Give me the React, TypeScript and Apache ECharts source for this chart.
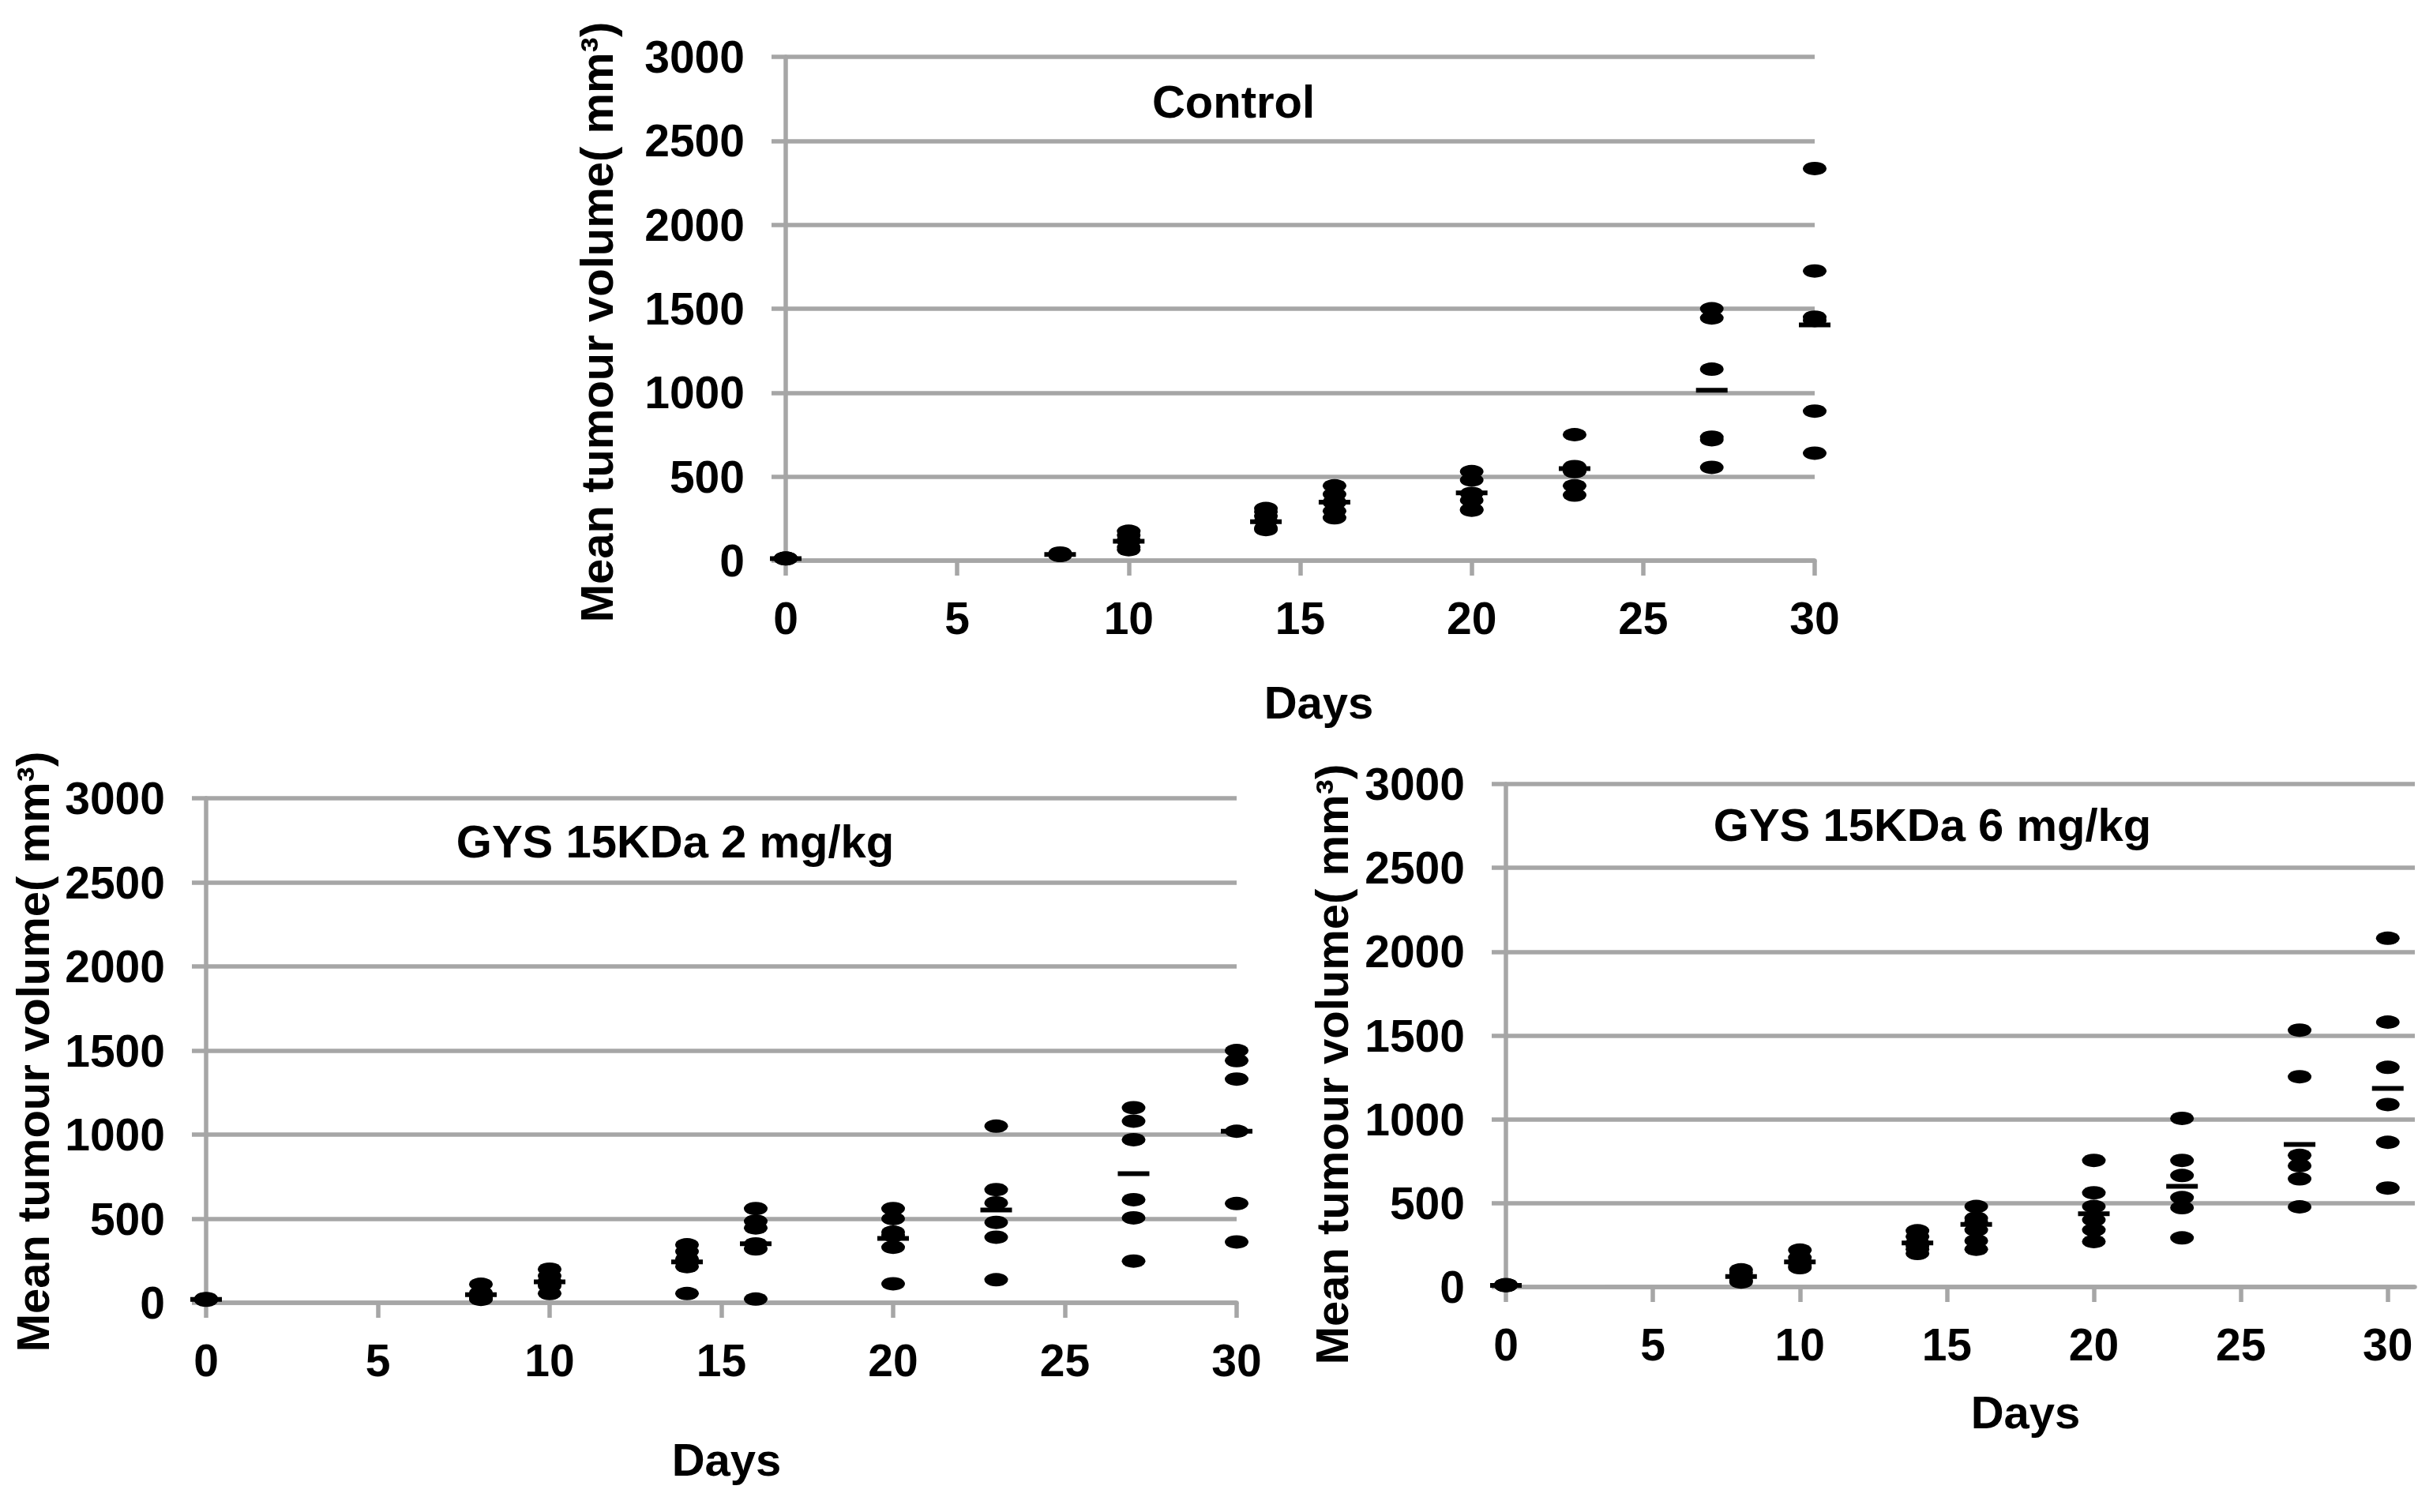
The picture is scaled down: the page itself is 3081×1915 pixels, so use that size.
import React, { useEffect, useRef } from "react";
import * as echarts from "echarts";

const days = [0, 8, 10, 14, 16, 20, 23, 27, 30];
const xTickValues = [0, 5, 10, 15, 20, 25, 30];

// individual tumour volumes (mm3), one inner array per day
const controlVolumes = [
  [15, 12, 10, 14, 11, 13],
  [45, 40, 38, 35, 32, 30],
  [175, 150, 125, 113, 80, 65],
  [310, 290, 265, 235, 195, 185],
  [445, 395, 350, 345, 295, 255],
  [530, 480, 400, 360, 305, 300],
  [750, 560, 545, 530, 445, 390],
  [1500, 1445, 1140, 735, 720, 555],
  [2335, 1725, 1450, 1430, 890, 640],
];
const controlMeans = [12, 36, 115, 232, 348, 403, 548, 1014, 1404];

const dose2Volumes = [
  [22, 20, 18, 25, 20, 15],
  [110, 60, 45, 35, 25, 20],
  [200, 160, 130, 115, 100, 55],
  [345, 305, 260, 240, 215, 55],
  [560, 485, 445, 350, 320, 22],
  [560, 500, 420, 400, 330, 113],
  [1050, 673, 594, 478, 390, 137],
  [1160, 1080, 970, 613, 505, 248],
  [1500, 1440, 1330, 1020, 590, 362],
];
const dose2Means = [20, 48, 125, 243, 351, 383, 552, 768, 1020];

const dose6Volumes = [
  [12, 10, 8, 14, 10, 12],
  [102, 85, 65, 55, 40, 30],
  [220, 175, 150, 140, 125, 115],
  [335, 300, 265, 245, 225, 200],
  [480, 410, 390, 340, 275, 225],
  [755, 562, 480, 400, 340, 271],
  [1006, 755, 665, 533, 473, 293],
  [1532, 1254, 785, 723, 645, 478],
  [2080, 1580, 1310, 1088, 863, 590],
];
const dose6Means = [10, 62, 150, 263, 373, 437, 601, 850, 1185];

const panelTitles = ["Control", "GYS 15KDa 2 mg/kg", "GYS 15KDa 6 mg/kg"];
const yTitle = "Mean tumour volume( mm³)";
const xTitle = "Days";

const GRAY = "#a6a6a6";
const FONT = "'Liberation Sans', Arial, Helvetica, sans-serif";
const LW = 5.5;

function points(vals: number[][]) {
  return days.flatMap((d, i) => vals[i].map((v) => [d, v]));
}
function meanPoints(m: number[]) {
  return days.map((d, i) => [d, m[i]]);
}

function makeXAxis(gridIndex: number, max: number) {
  return {
    type: "value",
    gridIndex,
    min: 0,
    max,
    interval: 5,
    axisLine: { show: true, onZero: false, lineStyle: { color: GRAY, width: LW } },
    axisTick: {
      show: true,
      length: 19,
      lineStyle: { color: GRAY, width: LW },
      customValues: xTickValues,
    },
    axisLabel: {
      color: "#000",
      fontSize: 57,
      fontWeight: "bold",
      fontFamily: FONT,
      margin: 44,
      customValues: xTickValues,
      formatter: (v: number) => String(v),
    },
    splitLine: { show: false },
  };
}

function makeYAxis(gridIndex: number) {
  return {
    type: "value",
    gridIndex,
    min: 0,
    max: 3000,
    interval: 500,
    axisLine: { show: true, lineStyle: { color: GRAY, width: LW } },
    axisTick: { show: true, length: 18, lineStyle: { color: GRAY, width: LW } },
    axisLabel: {
      color: "#000",
      fontSize: 57,
      fontWeight: "bold",
      fontFamily: FONT,
      margin: 52,
      formatter: (v: number) => String(v),
    },
    splitLine: { show: true, lineStyle: { color: GRAY, width: LW } },
  };
}

function dotSeries(idx: number, vals: number[][]) {
  return {
    type: "scatter",
    xAxisIndex: idx,
    yAxisIndex: idx,
    symbol: "circle",
    symbolSize: [30, 17],
    itemStyle: { color: "#000", opacity: 1 },
    data: points(vals),
    z: 3,
  };
}
function meanSeries(idx: number, m: number[]) {
  return {
    type: "scatter",
    xAxisIndex: idx,
    yAxisIndex: idx,
    symbol: "rect",
    symbolSize: [40, 6],
    itemStyle: { color: "#000", opacity: 1 },
    data: meanPoints(m),
    z: 4,
  };
}

function textEl(text: string, x: number, y: number, rotation = 0) {
  return {
    type: "text",
    x,
    y,
    rotation,
    style: {
      text,
      fill: "#000",
      font: `bold 58px ${FONT}`,
      textAlign: "center",
      textVerticalAlign: "middle",
    },
    z: 10,
  };
}

export default function App() {
  const ref = useRef<HTMLDivElement>(null);
  useEffect(() => {
    if (!ref.current) return;
    const chart = echarts.init(ref.current, null, { renderer: "svg" });
    chart.setOption({
      animation: false,
      backgroundColor: "#fff",
      grid: [
        { left: 995, top: 72, width: 1303, height: 638 },
        { left: 261, top: 1011, width: 1305, height: 639 },
        { left: 1907, top: 993, width: 1151, height: 637 },
      ],
      xAxis: [makeXAxis(0, 30), makeXAxis(1, 30), makeXAxis(2, 30.92)],
      yAxis: [makeYAxis(0), makeYAxis(1), makeYAxis(2)],
      series: [
        dotSeries(0, controlVolumes),
        meanSeries(0, controlMeans),
        dotSeries(1, dose2Volumes),
        meanSeries(1, dose2Means),
        dotSeries(2, dose6Volumes),
        meanSeries(2, dose6Means),
      ],
      graphic: [
        textEl(panelTitles[0], 1562, 128),
        textEl(panelTitles[1], 855, 1065),
        textEl(panelTitles[2], 2447, 1044),
        textEl(xTitle, 1670, 889),
        textEl(xTitle, 920, 1848),
        textEl(xTitle, 2565, 1788),
        textEl(yTitle, 755, 408, Math.PI / 2),
        textEl(yTitle, 41, 1332, Math.PI / 2),
        textEl(yTitle, 1686, 1348, Math.PI / 2),
      ],
    });
    return () => chart.dispose();
  }, []);
  return (
    <div
      ref={ref}
      style={{ position: "absolute", left: 0, top: 0, width: 3081, height: 1915 }}
    />
  );
}
